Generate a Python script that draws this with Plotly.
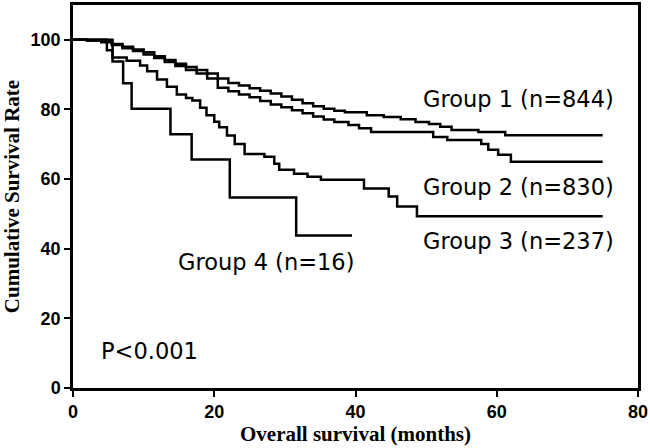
import plotly.graph_objects as go

# ---- data ----
g1_t = [0, 2, 4, 5.5, 7, 8.5, 10, 11.5, 13, 14.5, 16, 17.5, 19, 20.5, 22, 23.5, 25, 26.5, 28, 29.5,
        31, 32.5, 34, 35.5, 37, 38.5, 41.6, 44, 46.4, 48.5, 50.4, 52, 53.6, 57.4, 61.2, 75]
g1_s = [100, 99.8, 99.5, 98.8, 98, 97.2, 96.4, 95.3, 94.2, 93.1, 92.2, 91.3, 90.3, 88.9, 87.6, 86.9,
        86.1, 85.4, 84.6, 83.7, 82.8, 81.8, 80.9, 80.2, 79.6, 79.2, 78.3, 77.8, 77.2, 76.4, 75.8, 75.0,
        74.1, 73.5, 72.6, 72.6]

g2_t = [0, 2, 4, 5.5, 7, 8.5, 10, 11.5, 13, 14.5, 16, 17.5, 19, 20.5, 22, 23.5, 25, 26.5, 28, 29.5,
        31, 32.5, 34, 35.5, 37, 39, 40.5, 42.2, 51, 53, 57.8, 58.8, 60.2, 62, 75]
g2_s = [100, 99.8, 99.3, 98.5, 97.6, 96.8, 95.8, 94.8, 93.6, 92.5, 91.3, 90.3, 88.9, 86.2, 85.2, 84.3,
        83.5, 82.4, 81.4, 80.6, 79.8, 78.9, 78, 77.1, 76.4, 75.5, 74.6, 73.5, 72.1, 71.2, 70.1, 68.4,
        67, 65, 65]

g3_t = [0, 4.8, 5.6, 7.6, 9.5, 10.5, 11.9, 13.3, 14.7, 16, 16.9, 18, 18.9, 20, 20.7, 21.8, 22.9,
        24.3, 27.1, 28.5, 29.2, 31.3, 33.2, 35.1, 41.2, 44.7, 45.9, 48.7, 75]
g3_s = [100, 97, 94.9, 94, 92.6, 91, 88.6, 86.5, 84.3, 83.3, 82.6, 80.5, 78.3, 76.5, 74.9, 72.5, 70.1,
        67.2, 66.4, 64.4, 62.7, 61.5, 60.7, 59.8, 57.3, 55, 52.1, 49.3, 49.3]

g4_t = [0, 5.6, 7.1, 8.3, 13.8, 16.8, 22.2, 31.6, 39.5]
g4_s = [100, 93.75, 87.5, 80.2, 72.9, 65.6, 54.7, 43.8, 43.8]

group_labels = ["Group 1 (n=844)", "Group 2 (n=830)", "Group 3 (n=237)", "Group 4 (n=16)"]
label_x = [63.1, 63.1, 63.1, 27.3]
label_y = [82.9, 57.8, 42.2, 36.2]
p_text = "P<0.001"

x_ticks = [0, 20, 40, 60, 80]
y_ticks = [0, 20, 40, 60, 80, 100]

fig = go.Figure()
for t, s in [(g1_t, g1_s), (g2_t, g2_s), (g3_t, g3_s), (g4_t, g4_s)]:
    fig.add_trace(go.Scatter(x=t, y=s, mode="lines", line=dict(color="black", width=2.5, shape="hv"),
                             showlegend=False, hoverinfo="skip"))

ann_font = dict(family="DejaVu Sans", size=22.5, color="black")
for txt, x, y in zip(group_labels, label_x, label_y):
    fig.add_annotation(x=x, y=y, text=txt, showarrow=False, xanchor="center", yanchor="middle", font=ann_font)
fig.add_annotation(x=10.9, y=10.5, text=p_text, showarrow=False, xanchor="center", yanchor="middle", font=ann_font)

tick_font = dict(family="Liberation Sans", size=18, color="black")
title_font = dict(family="Liberation Serif", size=21, color="black")

fig.update_layout(
    width=650, height=448,
    margin=dict(l=73, r=10, t=2, b=60),
    paper_bgcolor="white", plot_bgcolor="white",
    xaxis=dict(range=[0, 80], tickvals=x_ticks, ticktext=[f"<b>{v}</b>" for v in x_ticks],
               ticks="outside", ticklen=6, tickwidth=2, tickcolor="black", ticklabeloverflow="allow",
               showline=True, linecolor="black", linewidth=2.5, mirror=True,
               showgrid=False, zeroline=False, tickfont=tick_font,
               title=dict(text="<b>Overall survival (months)</b>", font=title_font, standoff=5)),
    yaxis=dict(range=[0, 110], tickvals=y_ticks, ticktext=[f"<b>{v}</b>" for v in y_ticks],
               ticks="outside", ticklen=6, tickwidth=2, tickcolor="black",
               showline=True, linecolor="black", linewidth=2.5, mirror=True,
               showgrid=False, zeroline=False, tickfont=tick_font,
               title=dict(text="<b>Cumulative Survival Rate</b>", font=title_font, standoff=6)),
)

fig.write_html("out.html", config={"displayModeBar": False},
               post_script="document.body.style.margin='0';document.body.style.padding='0';")
